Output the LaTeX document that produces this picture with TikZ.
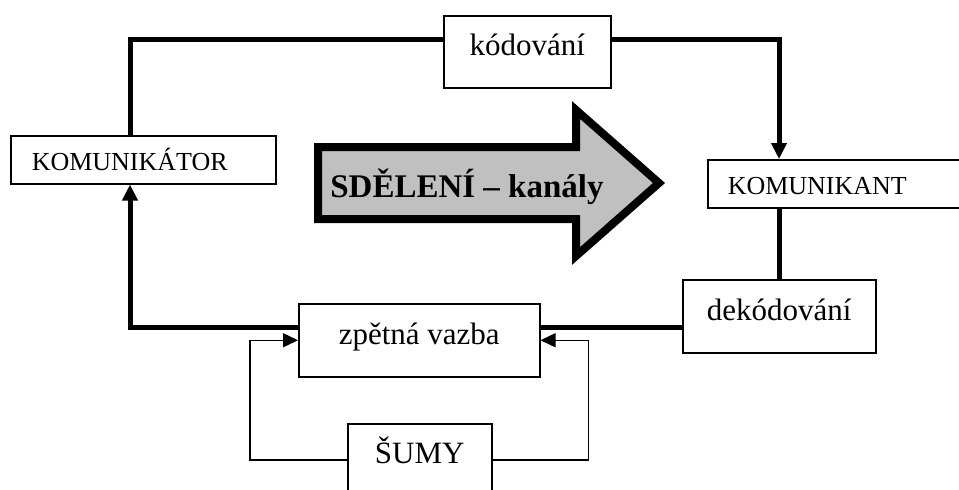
\documentclass[tikz,border=0pt]{standalone}
\usepackage{fontspec}
\setmainfont{Liberation Serif}
\usetikzlibrary{arrows.meta}

\definecolor{channelgray}{RGB}{192,192,192}

\tikzset{
  box/.style={draw, line width=1.5pt, inner xsep=0pt, inner ysep=0pt,
    anchor=north west, font=\fontsize{31}{36}\selectfont},
  capsbox/.style={box, align=left, font=\fontsize{26}{30}\selectfont},
  flow/.style={line width=5pt},
  noise/.style={line width=1.5pt},
  flowtip/.style={-{Triangle[length=16pt,width=15pt]}},
  noisetip/.style={-{Triangle[length=15pt,width=14pt]}}
}

\begin{document}
\begin{tikzpicture}[x=1pt,y=-1pt]

    % Fix the page size
    \useasboundingbox (0,0) rectangle (959,490);

    % Corners of the thick loop
    \coordinate (cL) at (130, 39);   % Top left corner
    \coordinate (cR) at (779, 39);   % Top right corner
    \coordinate (cB) at (130, 327);  % Bottom left corner

    % The big message arrow
    \draw[line width=8pt, fill=channelgray]
      (318,147) -- (576,147) -- (576,110) -- (659,183)
      -- (576,256) -- (576,219) -- (318,219) -- cycle;
    \node[font=\bfseries\fontsize{33}{38}\selectfont] (msg) at (467,187) {SDĚLENÍ – kanály};

    % Boxes
    \node[capsbox, text width=223pt, inner xsep=21pt, text height=35pt, text depth=13pt]
      (komor) at (10,135) {KOMUNIKÁTOR};
    \node[box, minimum width=167pt, text height=40pt, text depth=32pt]
      (kod) at (443,15) {kódování};
    \node[capsbox, text width=212pt, inner xsep=20pt, text height=35pt, text depth=13pt]
      (komant) at (707,159) {KOMUNIKANT};
    \node[box, minimum width=193pt, text height=41pt, text depth=32pt]
      (dekod) at (682,279) {dekódování};
    \node[box, minimum width=241pt, text height=41pt, text depth=32pt]
      (zpet) at (298,303) {zpětná vazba};
    \node[box, minimum width=144pt, text height=40pt, text depth=32pt]
      (sumy) at (347,423) {ŠUMY};

    % Thick loop: communicator -> coding -> receiver
    \draw[flow] (komor.north -| cL) -- (cL) -- (kod.west |- cL);
    \draw[flow, flowtip] (kod.east |- cR) -- (cR) -- (komant.north -| cR);

    % Thick loop: receiver -> decoding -> feedback -> communicator
    \draw[flow] (komant.south -| cR) -- (dekod.north -| cR);
    \draw[flow] (dekod.west |- cB) -- (zpet.east |- cB);
    \draw[flow, flowtip] (zpet.west |- cB) -- (cB) -- (komor.south -| cB);

    % Noise into the feedback
    \draw[noise, noisetip] (sumy.west) -- ++(-97,0) |- (zpet.west);
    \draw[noise, noisetip] (sumy.east) -- ++(96,0) |- (zpet.east);

\end{tikzpicture}
\end{document}
